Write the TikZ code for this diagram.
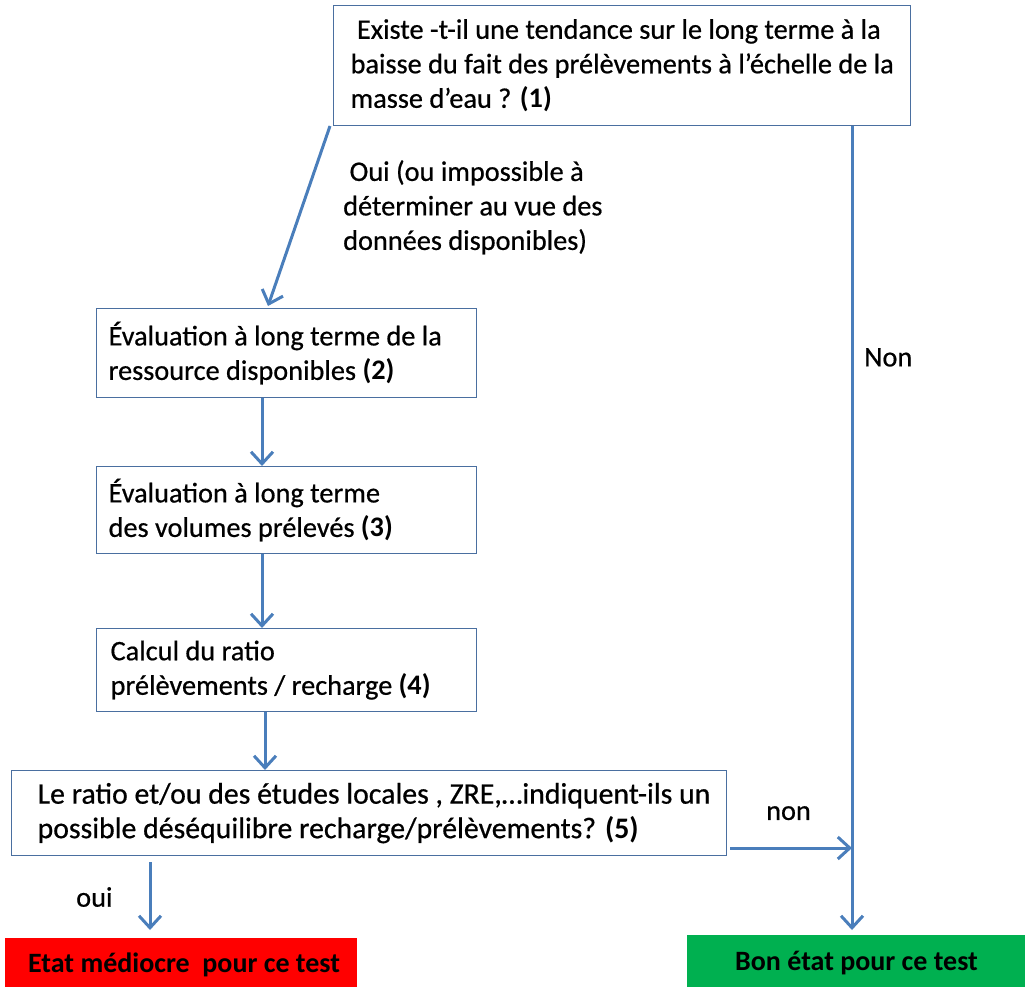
\documentclass[tikz,border=0pt]{standalone}
\usepackage{fontspec}
\setmainfont{Carlito}[UprightFeatures={FakeBold=0.6}]
\usetikzlibrary{arrows.meta}
\definecolor{lineblue}{HTML}{4A7EBB}
\definecolor{boxedge}{HTML}{4A6FA0}
\definecolor{redfill}{HTML}{FF0000}
\definecolor{greenfill}{HTML}{00B050}
\begin{document}
\begin{tikzpicture}[x=1pt,y=-1pt,
  txt/.style={font=\fontsize{28.3}{34.5}\selectfont},
  box/.style={txt, draw=boxedge, line width=1.2pt, fill=white, align=flush left, anchor=north west, inner ysep=0pt},
  conn/.style={draw=lineblue, line width=3pt, -{Straight Barb[length=12pt,width=22pt,line width=3pt]}},
  lbl/.style={txt, align=left, anchor=north west, inner sep=0pt},
  result/.style={font=\fontsize{28}{34}\selectfont\bfseries, anchor=north west, inner sep=0pt, draw=none}]
\useasboundingbox (0,0) rectangle (1025,986);

\node[box, inner xsep=17pt, text width=543pt, minimum height=120pt] (q1) at (333,5)
  {\mbox{\ Existe -t-il une tendance sur le long terme à la}\\\mbox{baisse du fait des prélèvements à l’échelle de la}\\masse d’eau ? \textbf{(1)}};

\node[box, inner xsep=12pt, text width=356pt, minimum height=89pt] (q2) at (96,308)
  {Évaluation à long terme de la\\ressource disponibles \textbf{(2)}};

\node[box, inner xsep=12pt, text width=356pt, minimum height=87pt] (q3) at (96,466)
  {Évaluation à long terme\\des volumes prélevés \textbf{(3)}};

\node[box, inner xsep=14pt, text width=352pt, minimum height=83pt] (q4) at (96,628)
  {Calcul du ratio\\prélèvements / recharge \textbf{(4)}};

\node[box, inner xsep=26pt, text width=663pt, minimum height=85pt, font=\fontsize{29.8}{34.5}\selectfont] (q5) at (11,770)
  {\mbox{Le ratio et/ou des études locales , ZRE,…indiquent-ils un}\\\mbox{possible déséquilibre recharge/prélèvements? \textbf{(5)}}};

\node[fill=redfill, minimum width=352pt, minimum height=60pt, anchor=north west, inner sep=0pt] (bad) at (5,938) {};
\node[result] (badtxt) at (28,953) {Etat médiocre\ \ pour ce test};
\node[fill=greenfill, minimum width=340pt, minimum height=60pt, anchor=north west, inner sep=0pt] (good) at (687,935) {};
\node[result] (goodtxt) at (735,951) {Bon état pour ce test};

\node[lbl] (lyes) at (343,160) {\ Oui (ou impossible à\\déterminer au vue des\\données disponibles)};
\node[lbl] (lno) at (864,348) {Non};
\node[lbl] (lnon) at (766,806) {non};
\node[lbl] (loui) at (76,887) {oui};

\coordinate (a1s) at (330,126);
\coordinate (a1e) at (268,306);
\draw[conn] (a1s) -- (a1e);

\coordinate (rs) at (852,126);
\coordinate (re) at (852,930);
\draw[conn] (rs) -- (re);

\draw[conn] (q2.south -| 262,0) -- (q3.north -| 262,0);
\draw[conn] (q3.south -| 262,0) -- (q4.north -| 262,0);
\draw[conn] (q4.south -| 265,0) -- (q5.north -| 265,0);

\coordinate (os) at (150,862);
\coordinate (oe) at (150,930);
\draw[conn] (os) -- (oe);

\coordinate (ns) at (730,848);
\coordinate (ne) at (852,848);
\draw[conn] (ns) -- (ne);
\end{tikzpicture}
\end{document}
